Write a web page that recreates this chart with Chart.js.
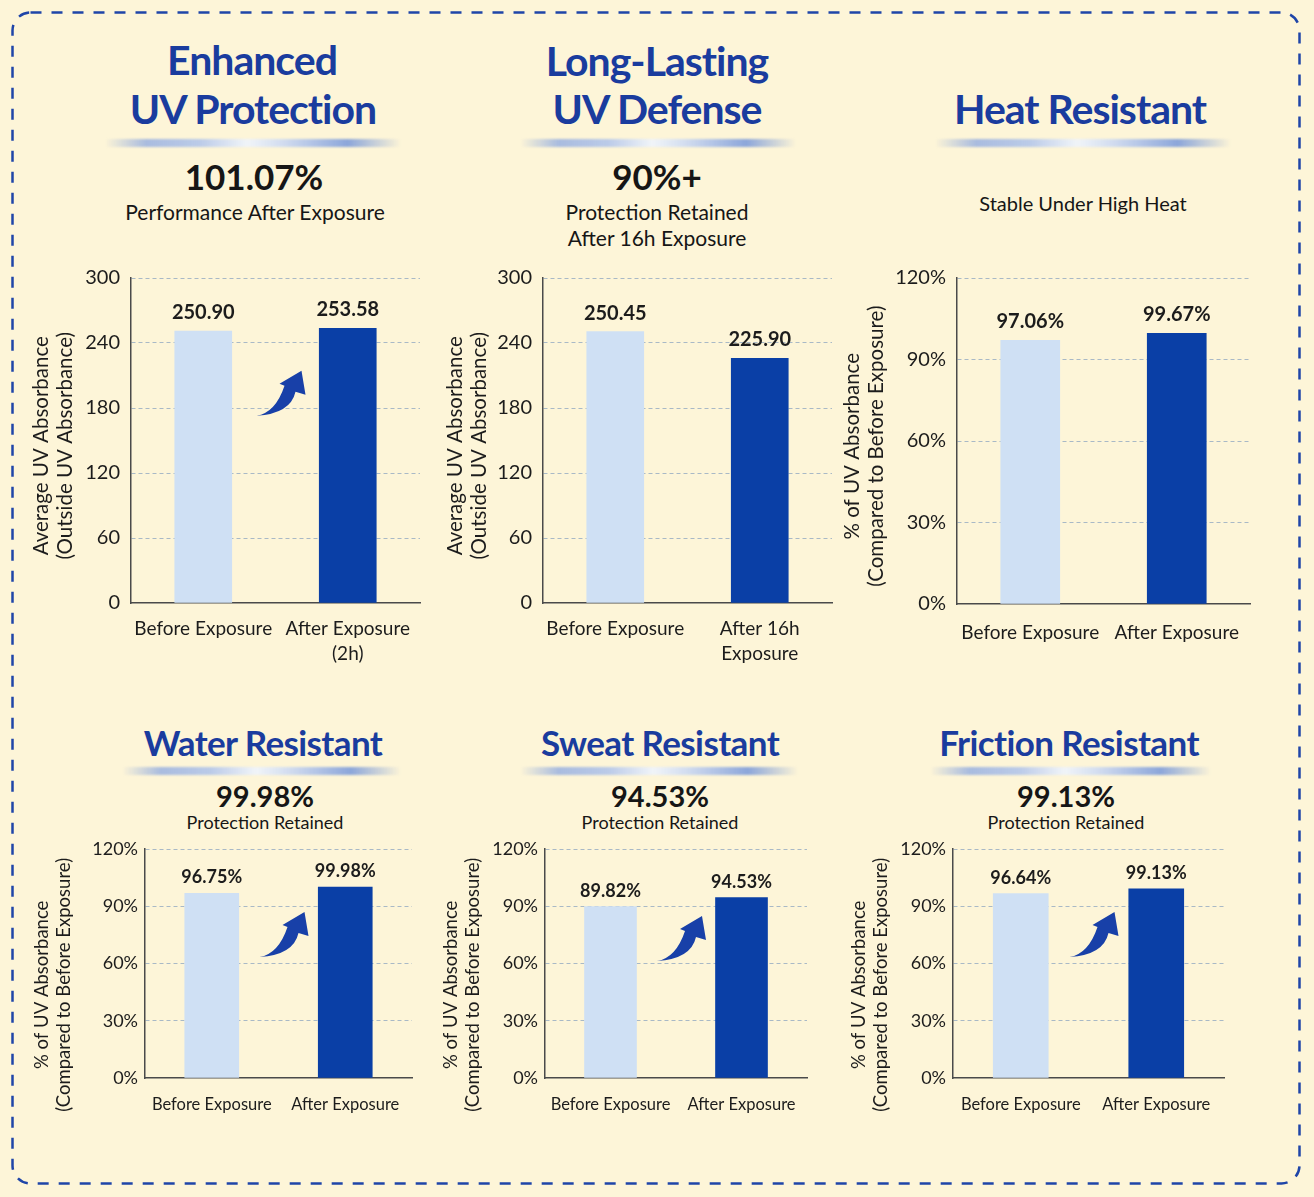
<!DOCTYPE html>
<html>
<head>
    <title>UV Protection Performance</title>
    <script src="https://cdn.jsdelivr.net/npm/chart.js@4"></script>
    <style>
        body { margin: 0; background: #fdf5d8; font-family: Lato, "Noto Sans", sans-serif; }
        #page { position: relative; width: 1314px; height: 1197px; overflow: hidden; background: #fdf5d8; }
        #frame { position: absolute; left: 0; top: 0; }
        .t { position: absolute; transform: translate(-50%, -50%); white-space: nowrap; line-height: 1; color: #161616; }
        .head { color: #1a3c9e; font-weight: 700; font-size: 41px; letter-spacing: -1px; }
        .head.sm { font-size: 35px; letter-spacing: -0.6px; }
        .big { font-weight: 700; font-size: 35px; }
        .big.sm { font-size: 29px; }
        .sub { font-size: 21px; }
        .sub.sm { font-size: 18px; }
        .rule {
            position: absolute; height: 8px; filter: blur(1px);
            background: linear-gradient(to right, rgba(140,165,220,0), rgba(140,168,225,0.75) 14%, rgba(175,195,235,0.85) 32%,
                rgba(240,244,250,0.95) 48%, rgba(205,218,242,0.9) 60%, rgba(120,152,218,0.85) 82%, rgba(140,165,220,0));
        }
        .box { position: absolute; }
    </style>
</head>
<body>
<div id="page">
    <svg id="frame" width="1314" height="1197">
        <rect x="12.5" y="12.5" width="1287" height="1171" rx="18" fill="none" stroke="#1f45a8" stroke-width="2.5" stroke-dasharray="11 10"/>
    </svg>

    <!-- top row -->
    <div class="t head" style="left:252px; top:59px">Enhanced</div>
    <div class="t head" style="left:253px; top:108px">UV Protection</div>
    <div class="rule" style="left:105px; width:296px; top:139px"></div>
    <div class="t big" style="left:254px; top:176px">101.07%</div>
    <div class="t sub" style="left:255px; top:211px">Performance After Exposure</div>

    <div class="t head" style="left:657px; top:60px">Long-Lasting</div>
    <div class="t head" style="left:657px; top:108px">UV Defense</div>
    <div class="rule" style="left:520px; width:276px; top:139px"></div>
    <div class="t big" style="left:657px; top:176px">90%+</div>
    <div class="t sub" style="left:657px; top:211px">Protection Retained</div>
    <div class="t sub" style="left:657px; top:237px">After 16h Exposure</div>

    <div class="t head" style="left:1080px; top:108px">Heat Resistant</div>
    <div class="rule" style="left:935px; width:296px; top:139px"></div>
    <div class="t sub" style="left:1083px; top:203px; font-size:20px">Stable Under High Heat</div>

    <!-- bottom row -->
    <div class="t head sm" style="left:263px; top:742px">Water Resistant</div>
    <div class="rule" style="left:122px; width:279px; top:767px"></div>
    <div class="t big sm" style="left:265px; top:795px">99.98%</div>
    <div class="t sub sm" style="left:265px; top:822px">Protection Retained</div>

    <div class="t head sm" style="left:660px; top:742px">Sweat Resistant</div>
    <div class="rule" style="left:520px; width:278px; top:767px"></div>
    <div class="t big sm" style="left:660px; top:795px">94.53%</div>
    <div class="t sub sm" style="left:660px; top:822px">Protection Retained</div>

    <div class="t head sm" style="left:1069px; top:742px">Friction Resistant</div>
    <div class="rule" style="left:930px; width:281px; top:767px"></div>
    <div class="t big sm" style="left:1066px; top:795px">99.13%</div>
    <div class="t sub sm" style="left:1066px; top:822px">Protection Retained</div>
</div>

<script>
    // chart data
    const labelsPlain = ['Before Exposure', 'After Exposure'];
    const labels2h = ['Before Exposure', ['After Exposure', '(2h)']];
    const labels16h = ['Before Exposure', ['After 16h', 'Exposure']];

    const enhancedValues = [250.90, 253.58];
    const longLastingValues = [250.45, 225.90];
    const heatValues = [97.06, 99.67];
    const waterValues = [96.75, 99.98];
    const sweatValues = [89.82, 94.53];
    const frictionValues = [96.64, 99.13];

    const absorbanceTicks = [0, 60, 120, 180, 240, 300];
    const percentTicks = [0, 30, 60, 90, 120];

    const absorbanceTitle = ['Average UV Absorbance', '(Outside UV Absorbance)'];
    const percentTitle = ['% of UV Absorbance', '(Compared to Before Exposure)'];

    const LIGHT = '#cfe0f4';
    const DARK = '#0a3fa6';
    const GRID = '#a9b9c6';
    const AXIS = '#4a4a4a';
    const TEXT = '#1c1c1c';
    const ARROW = '#1840a8';
    const FONT = 'Lato, "Noto Sans", sans-serif';

    function valueLabels(fmt, size, gap) {
        return {
            id: 'valueLabels',
            afterDatasetsDraw(chart) {
                const ctx = chart.ctx;
                const meta = chart.getDatasetMeta(0);
                const data = chart.data.datasets[0].data;
                ctx.save();
                ctx.font = `700 ${size}px ${FONT}`;
                ctx.fillStyle = TEXT;
                ctx.textAlign = 'center';
                ctx.textBaseline = 'alphabetic';
                meta.data.forEach((bar, i) => ctx.fillText(fmt(data[i]), bar.x, bar.y - gap));
                ctx.restore();
            }
        };
    }

    // curved "up" arrow between the two bars
    function swoosh(lift) {
        return {
            id: 'swoosh',
            afterDatasetsDraw(chart) {
                const ctx = chart.ctx;
                const xs = chart.scales.x;
                const area = chart.chartArea;
                const x0 = (xs.getPixelForTick(0) + xs.getPixelForTick(1)) / 2 - 19;
                const y0 = area.bottom - lift * (area.bottom - area.top);
                ctx.save();
                ctx.translate(x0, y0);
                ctx.fillStyle = ARROW;
                ctx.beginPath();
                ctx.moveTo(0, 0);
                ctx.quadraticCurveTo(19, -3, 28, -30);
                ctx.lineTo(23, -32);
                ctx.lineTo(45, -45);
                ctx.lineTo(49, -21);
                ctx.lineTo(39, -24);
                ctx.quadraticCurveTo(34, -2, 0, 0);
                ctx.closePath();
                ctx.fill();
                ctx.restore();
            }
        };
    }

    function makeChart(cfg) {
        const [bx, by, bw, bh] = cfg.box;
        const [L, T, R, B] = cfg.area;
        const page = document.getElementById('page');
        const wrap = document.createElement('div');
        wrap.className = 'box';
        wrap.style.left = bx + 'px';
        wrap.style.top = by + 'px';
        wrap.style.width = bw + 'px';
        wrap.style.height = bh + 'px';
        const canvas = document.createElement('canvas');
        wrap.appendChild(canvas);
        page.appendChild(wrap);

        const ticks = cfg.ticks;
        const titleLH = cfg.titleSize * 1.18;
        // trailing spaces nudge the rotated title down a little, as in the original
        const titleText = cfg.title.map(s => s + ' '.repeat(cfg.titleNudge));
        const plugins = [valueLabels(cfg.fmt, cfg.labelSize, cfg.labelGap)];
        if (cfg.arrow) plugins.push(swoosh(cfg.arrow));

        return new Chart(canvas, {
            type: 'bar',
            data: {
                labels: cfg.labels,
                datasets: [{
                    data: cfg.values,
                    backgroundColor: [LIGHT, DARK],
                    barThickness: cfg.barW
                }]
            },
            options: {
                responsive: true,
                maintainAspectRatio: false,
                animation: false,
                layout: { padding: { top: T - by, right: bx + bw - R, left: 0, bottom: 0 } },
                plugins: { legend: { display: false }, tooltip: { enabled: false } },
                scales: {
                    x: {
                        grid: { display: false },
                        border: { display: true, color: AXIS, width: 1.5 },
                        ticks: {
                            color: TEXT, padding: cfg.xPad, maxRotation: 0, autoSkip: false,
                            font: { family: FONT, size: cfg.xSize, lineHeight: 1.3 }
                        },
                        afterFit: s => { s.height = by + bh - B; }
                    },
                    y: {
                        min: ticks[0],
                        max: ticks[ticks.length - 1],
                        grid: {
                            drawTicks: false,
                            lineWidth: 1,
                            color: c => (c.tick && c.tick.value === 0) ? 'rgba(0,0,0,0)' : GRID
                        },
                        border: { display: true, color: AXIS, width: 1.5, dash: [4, 3] },
                        ticks: {
                            stepSize: ticks[1] - ticks[0],
                            padding: cfg.yPad,
                            color: TEXT,
                            font: { family: FONT, size: cfg.ySize },
                            callback: cfg.tickFmt
                        },
                        title: {
                            display: true,
                            text: titleText,
                            color: TEXT,
                            font: { family: FONT, size: cfg.titleSize, lineHeight: 1.18 },
                            padding: { top: cfg.titleX - bx - titleLH / 2, bottom: 0 }
                        },
                        afterFit: s => { s.width = L - bx; }
                    }
                }
            },
            plugins: plugins
        });
    }

    const num2 = v => v.toFixed(2);
    const pct2 = v => v.toFixed(2) + '%';
    const pctTick = v => v + '%';

    const topRow = { ySize: 20, xSize: 19, titleSize: 20.5, titleNudge: 2, labelSize: 20, labelGap: 12, xPad: 6, yPad: 11 };
    const bottomRow = { ySize: 18, xSize: 16.5, titleSize: 18.5, titleNudge: 9, labelSize: 18, labelGap: 10, xPad: 8, yPad: 7 };

    makeChart(Object.assign({}, topRow, {
        box: [20, 255, 410, 430], area: [131, 275, 420, 603],
        labels: labels2h, values: enhancedValues, ticks: absorbanceTicks,
        title: absorbanceTitle, titleX: 41, barW: 57, fmt: num2, tickFmt: v => v, arrow: 0.576
    }));
    makeChart(Object.assign({}, topRow, {
        box: [430, 255, 410, 430], area: [543, 275, 832, 603],
        labels: labels16h, values: longLastingValues, ticks: absorbanceTicks,
        title: absorbanceTitle, titleX: 455, barW: 57, fmt: num2, tickFmt: v => v
    }));
    makeChart(Object.assign({}, topRow, {
        box: [835, 255, 430, 430], area: [957, 275, 1250, 604],
        labels: labelsPlain, values: heatValues, ticks: percentTicks,
        title: percentTitle, titleX: 852, barW: 59, fmt: pct2, tickFmt: pctTick, xPad: 9
    }));

    makeChart(Object.assign({}, bottomRow, {
        box: [20, 830, 410, 310], area: [145, 849, 412, 1078],
        labels: labelsPlain, values: waterValues, ticks: percentTicks,
        title: percentTitle, titleX: 42, barW: 54, fmt: pct2, tickFmt: pctTick, arrow: 0.528
    }));
    makeChart(Object.assign({}, bottomRow, {
        box: [430, 830, 400, 310], area: [545, 849, 807, 1078],
        labels: labelsPlain, values: sweatValues, ticks: percentTicks,
        title: percentTitle, titleX: 451, barW: 52, fmt: pct2, tickFmt: pctTick, arrow: 0.511
    }));
    makeChart(Object.assign({}, bottomRow, {
        box: [835, 830, 410, 310], area: [953, 849, 1224, 1078],
        labels: labelsPlain, values: frictionValues, ticks: percentTicks,
        title: percentTitle, titleX: 859, barW: 55, fmt: pct2, tickFmt: pctTick, arrow: 0.528
    }));
</script>
</body>
</html>
